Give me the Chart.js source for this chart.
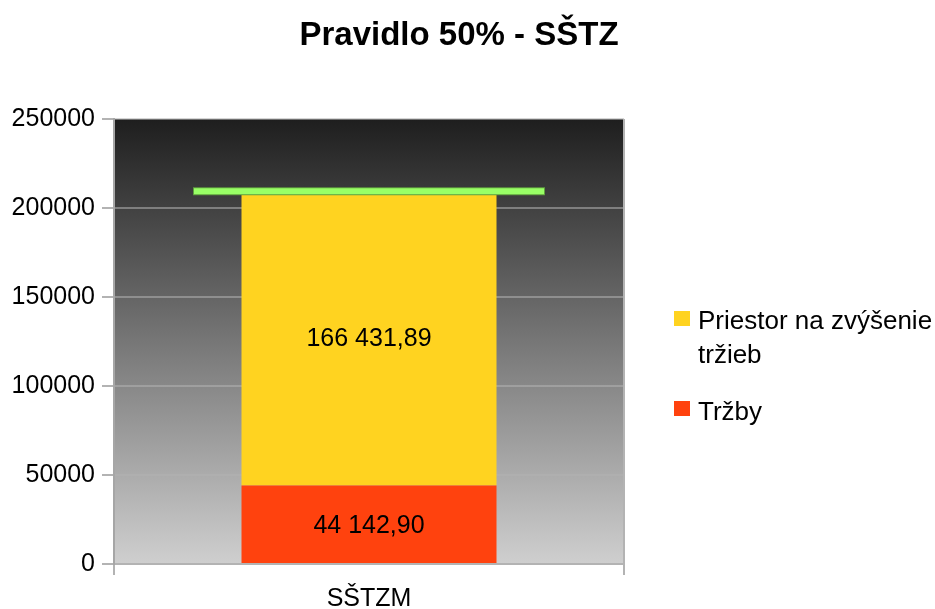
<!DOCTYPE html>
<html>
<head>
<meta charset="utf-8">
<script src="https://cdn.jsdelivr.net/npm/chart.js@4"></script>
<style>
  html, body { margin: 0; padding: 0; background: #fff; }
  #wrap { position: relative; width: 935px; height: 609px; overflow: hidden; }
  #c { position: absolute; left: 0; top: 0; }
  .t { position: absolute; font-family: "Liberation Sans", Arial, sans-serif; color: #000; white-space: nowrap; }
  #title { left: 0; width: 918px; top: 17px; text-align: center; font-weight: bold; font-size: 33px; line-height: 33px; }
  .sw { position: absolute; width: 16px; height: 15px; }
  .lg { font-size: 26px; line-height: 34px; left: 698px; }
</style>
</head>
<body>
<div id="wrap">
  <canvas id="c" width="935" height="609"></canvas>
  <div id="title" class="t">Pravidlo 50% - SŠTZ</div>
  <div class="sw" style="left:674px; top:311px; background:#ffd320;"></div>
  <div class="t lg" style="top:303px;">Priestor na zvýšenie<br>tržieb</div>
  <div class="sw" style="left:674px; top:401px; background:#ff420e;"></div>
  <div class="t lg" style="top:394px;">Tržby</div>
</div>
<script>
// ---- data ----
const categories = ['SŠTZM'];
const seriesNames = ['Tržby', 'Priestor na zvýšenie tržieb'];
const trzby = [44142.90];
const priestor = [166431.89];
const limitLine = [209400];
const yTicks = [0, 50000, 100000, 150000, 200000, 250000];

function fmt(v) {
  const parts = v.toFixed(2).split('.');
  return parts[0].replace(/\B(?=(\d{3})+(?!\d))/g, ' ') + ',' + parts[1];
}

const FONT = '"Liberation Sans", Arial, sans-serif';

const bgPlugin = {
  id: 'bg',
  beforeDraw(chart) {
    const { ctx, chartArea: a } = chart;
    ctx.save();
    ctx.fillStyle = '#fff';
    ctx.fillRect(0, 0, chart.width, chart.height);
    const g = ctx.createLinearGradient(0, a.top, 0, a.bottom);
    g.addColorStop(0, '#1e1e1e');
    g.addColorStop(1, '#cfcfcf');
    ctx.fillStyle = g;
    ctx.fillRect(a.left, a.top, a.right - a.left, a.bottom - a.top);
    ctx.restore();
  }
};

const labelPlugin = {
  id: 'vals',
  afterDatasetsDraw(chart) {
    const { ctx } = chart;
    ctx.save();
    ctx.font = '25px ' + FONT;
    ctx.fillStyle = '#000';
    ctx.textAlign = 'center';
    ctx.textBaseline = 'middle';
    [0, 1].forEach(di => {
      const meta = chart.getDatasetMeta(di);
      const ds = chart.data.datasets[di];
      meta.data.forEach((el, i) => {
        const p = el.getProps(['x', 'y', 'base'], true);
        ctx.fillText(fmt(ds.data[i]), p.x, (p.y + p.base) / 2 + 2);
      });
    });
    ctx.restore();
  }
};

new Chart(document.getElementById('c'), {
  type: 'bar',
  data: {
    labels: categories,
    datasets: [
      { label: seriesNames[0], data: trzby, backgroundColor: '#ff420e', stack: 's', order: 2,
        categoryPercentage: 1, barPercentage: 0.5 },
      { label: seriesNames[1], data: priestor, backgroundColor: '#ffd320', stack: 's', order: 2,
        categoryPercentage: 1, barPercentage: 0.5 },
      { type: 'line', label: 'limitOuter', data: limitLine, stack: 'g1', order: 1, showLine: false,
        pointStyle: 'line', pointRadius: 176, pointHoverRadius: 176, pointBorderWidth: 8,
        pointBorderColor: '#5f9e3f', pointBackgroundColor: '#5f9e3f' },
      { type: 'line', label: 'limitInner', data: limitLine, stack: 'g2', order: 0, showLine: false,
        pointStyle: 'line', pointRadius: 175, pointHoverRadius: 175, pointBorderWidth: 6,
        pointBorderColor: '#99ff66', pointBackgroundColor: '#99ff66' }
    ]
  },
  options: {
    responsive: false,
    animation: false,
    events: [],
    layout: { autoPadding: false, padding: { top: 119, right: 311, left: 0, bottom: 0 } },
    plugins: { legend: { display: false }, title: { display: false }, tooltip: { enabled: false } },
    scales: {
      x: {
        stacked: true,
        offset: true,
        grid: { offset: true, color: '#b3b3b3', lineWidth: 2, tickLength: 11, tickColor: '#b3b3b3' },
        border: { color: '#b3b3b3', width: 2 },
        ticks: { font: { size: 25, family: FONT }, color: '#000', padding: 9 },
        afterFit(a) { a.height = 45; }
      },
      y: {
        stacked: true,
        min: 0,
        max: 250000,
        afterBuildTicks(a) { a.ticks = yTicks.map(v => ({ value: v })); },
        ticks: { font: { size: 25, family: FONT }, color: '#000', padding: 7,
                 callback: v => String(v) },
        grid: { color: 'rgba(179,179,179,0.55)', lineWidth: 2, tickLength: 12, tickColor: '#b3b3b3' },
        border: { color: '#a6a6a6', width: 2 },
        afterFit(a) { a.width = 114; }
      }
    }
  },
  plugins: [bgPlugin, labelPlugin]
});
</script>
</body>
</html>
